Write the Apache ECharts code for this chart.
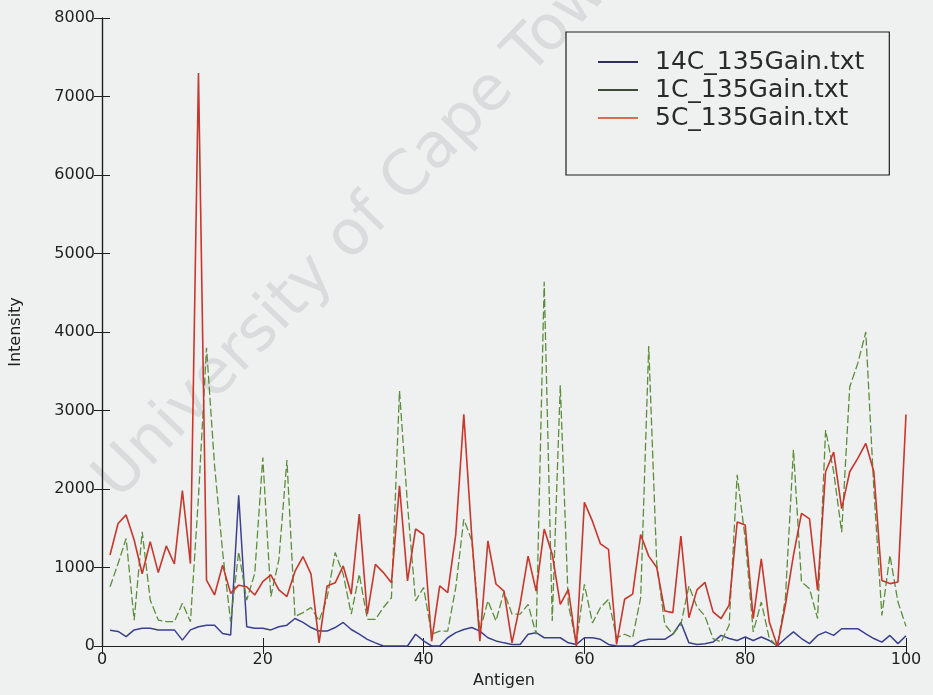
<!DOCTYPE html>
<html>
<head>
<meta charset="utf-8">
<script src="https://cdn.jsdelivr.net/npm/echarts@6/dist/echarts.min.js"></script>
<style>
  html, body { margin: 0; padding: 0; background: #eff1f1; }
  #chart { width: 933px; height: 695px; }
</style>
</head>
<body>
<div id="chart"></div>
<script>
// Antigen index (1..100) on the x axis
const antigen = Array.from({ length: 100 }, (_, k) => k + 1);

// Measured intensity for each antigen, one array per gain file
const gain14C = [
  200, 185, 120, 205, 225, 225, 205, 205, 205, 75,
  205, 245, 265, 265, 160, 140, 1920, 245, 225, 225,
  205, 245, 265, 350, 300, 235, 190, 190, 235, 300,
  210, 150, 85, 40, 0, 0, 0, 0, 150, 65,
  0, 0, 105, 170, 210, 235, 190, 105, 65, 40,
  20, 20, 150, 170, 105, 105, 105, 40, 20, 105,
  105, 85, 20, 0, 0, 0, 65, 85, 85, 85,
  150, 300, 40, 20, 30, 50, 135, 95, 70, 115,
  70, 115, 70, 0, 95, 180, 95, 30, 135, 180,
  135, 220, 220, 220, 155, 95, 50, 135, 30, 130
];

const gain1C = [
  755, 1050, 1370, 330, 1455, 585, 330, 310, 310, 545,
  310, 1900, 3800, 2300, 1200, 310, 1200, 585, 925, 2400,
  630, 1100, 2370, 375, 425, 490, 320, 615, 1190, 915,
  405, 915, 340, 340, 490, 615, 3250, 1800, 575, 745,
  150, 190, 190, 745, 1615, 1340, 190, 575, 320, 690,
  405, 405, 530, 150, 4640, 320, 3320, 530, 40, 785,
  295, 490, 595, 105, 150, 105, 615, 3820, 1040, 275,
  150, 275, 765, 500, 380, 95, 50, 265, 2180, 1370,
  180, 560, 95, 0, 605, 2500, 815, 730, 350, 2750,
  2220, 1450, 3300, 3600, 4000, 2000, 390, 1155, 560, 250
];

const gain5C = [
  1160, 1560, 1670, 1350, 920, 1330, 935, 1275, 1045, 1980,
  1050, 7300, 840, 650, 1030, 670, 775, 755, 650, 820,
  905, 715, 630, 950, 1140, 915, 40, 765, 805, 1020,
  660, 1680, 405, 1040, 935, 805, 2040, 830, 1490, 1420,
  60, 765, 680, 1420, 2950, 1380, 60, 1340, 790, 700,
  40, 530, 1145, 700, 1490, 1170, 530, 720, 0, 1830,
  1590, 1300, 1230, 20, 595, 660, 1420, 1145, 1000, 445,
  425, 1400, 360, 715, 810, 435, 350, 520, 1580, 1540,
  350, 1110, 305, 0, 520, 1155, 1690, 1620, 710, 2220,
  2470, 1750, 2220, 2390, 2580, 2220, 835, 795, 815, 2950
];

const seriesNames = ['14C_135Gain.txt', '1C_135Gain.txt', '5C_135Gain.txt'];
const xTicks = { min: 0, max: 100, interval: 20 };
const yTicks = { min: 0, max: 8000, interval: 1000 };

const FONT = 'DejaVu Sans';
const INK = '#1f1f1f';

function pairs(values) {
  return values.map((v, k) => [antigen[k], v]);
}

// Plain integer tick text, no thousands separators
const plain = (v) => String(v);

const frameAxis = {
  axisLine: { show: true, lineStyle: { color: INK, width: 1.2 } },
  axisTick: { show: true, inside: true, length: 8, lineStyle: { color: INK, width: 1 } },
  splitLine: { show: false }
};

const chart = echarts.init(document.getElementById('chart'), null, { renderer: 'canvas' });

chart.setOption({
  backgroundColor: '#eff1f1',
  animation: false,
  grid: { left: 102, right: 27, top: 18, bottom: 49, containLabel: false },
  graphic: [{
    type: 'text',
    z: -10,
    x: 366,
    y: 222,
    rotation: Math.PI * 0.255,
    style: {
      text: 'University of Cape Town',
      font: '62px "DejaVu Sans"',
      fill: 'rgba(130,135,140,0.2)',
      textAlign: 'center',
      textVerticalAlign: 'middle'
    }
  }],
  xAxis: [
    Object.assign({
      type: 'value', position: 'bottom',
      min: xTicks.min, max: xTicks.max, interval: xTicks.interval,
      name: 'Antigen', nameLocation: 'middle', nameGap: 27,
      nameTextStyle: { fontFamily: FONT, fontSize: 16, color: INK },
      axisLabel: { fontFamily: FONT, fontSize: 16, color: INK, margin: 6, formatter: plain }
    }, frameAxis),
    Object.assign({
      type: 'value', position: 'top',
      min: xTicks.min, max: xTicks.max, interval: xTicks.interval,
      axisLabel: { show: false }
    }, frameAxis)
  ],
  yAxis: [
    Object.assign({
      type: 'value', position: 'left',
      min: yTicks.min, max: yTicks.max, interval: yTicks.interval,
      name: 'Intensity', nameLocation: 'middle', nameGap: 78, nameRotate: 90,
      nameTextStyle: { fontFamily: FONT, fontSize: 16, color: INK },
      axisLabel: { fontFamily: FONT, fontSize: 16, color: INK, margin: 7, formatter: plain }
    }, frameAxis),
    Object.assign({
      type: 'value', position: 'right',
      min: yTicks.min, max: yTicks.max, interval: yTicks.interval,
      axisLabel: { show: false }
    }, frameAxis)
  ],
  legend: {
    orient: 'vertical',
    left: 566,
    top: 32,
    padding: [16, 25, 43, 32],
    itemGap: 0,
    itemWidth: 40,
    itemHeight: 2,
    icon: 'rect',
    borderColor: INK,
    borderWidth: 1.2,
    borderRadius: 0,
    backgroundColor: 'rgba(239,241,241,0.6)',
    textStyle: { fontFamily: FONT, fontSize: 25, color: '#2a2a2a', lineHeight: 28, padding: [0, 0, 0, 12] },
    data: seriesNames
  },
  series: [
    {
      name: seriesNames[0], type: 'line', symbol: 'none',
      xAxisIndex: 0, yAxisIndex: 0,
      data: pairs(gain14C),
      lineStyle: { color: '#3b3f8e', width: 1.5 },
      itemStyle: { color: '#2e2f5a' },
      z: 3
    },
    {
      name: seriesNames[1], type: 'line', symbol: 'none',
      xAxisIndex: 0, yAxisIndex: 0,
      data: pairs(gain1C),
      lineStyle: { color: '#5d8d3c', width: 1.3, type: [8, 3] },
      itemStyle: { color: '#3d4a35' },
      z: 4
    },
    {
      name: seriesNames[2], type: 'line', symbol: 'none',
      xAxisIndex: 0, yAxisIndex: 0,
      data: pairs(gain5C),
      lineStyle: { color: '#c8362c', width: 1.6 },
      itemStyle: { color: '#e06a55' },
      z: 5
    }
  ]
});
</script>
</body>
</html>
